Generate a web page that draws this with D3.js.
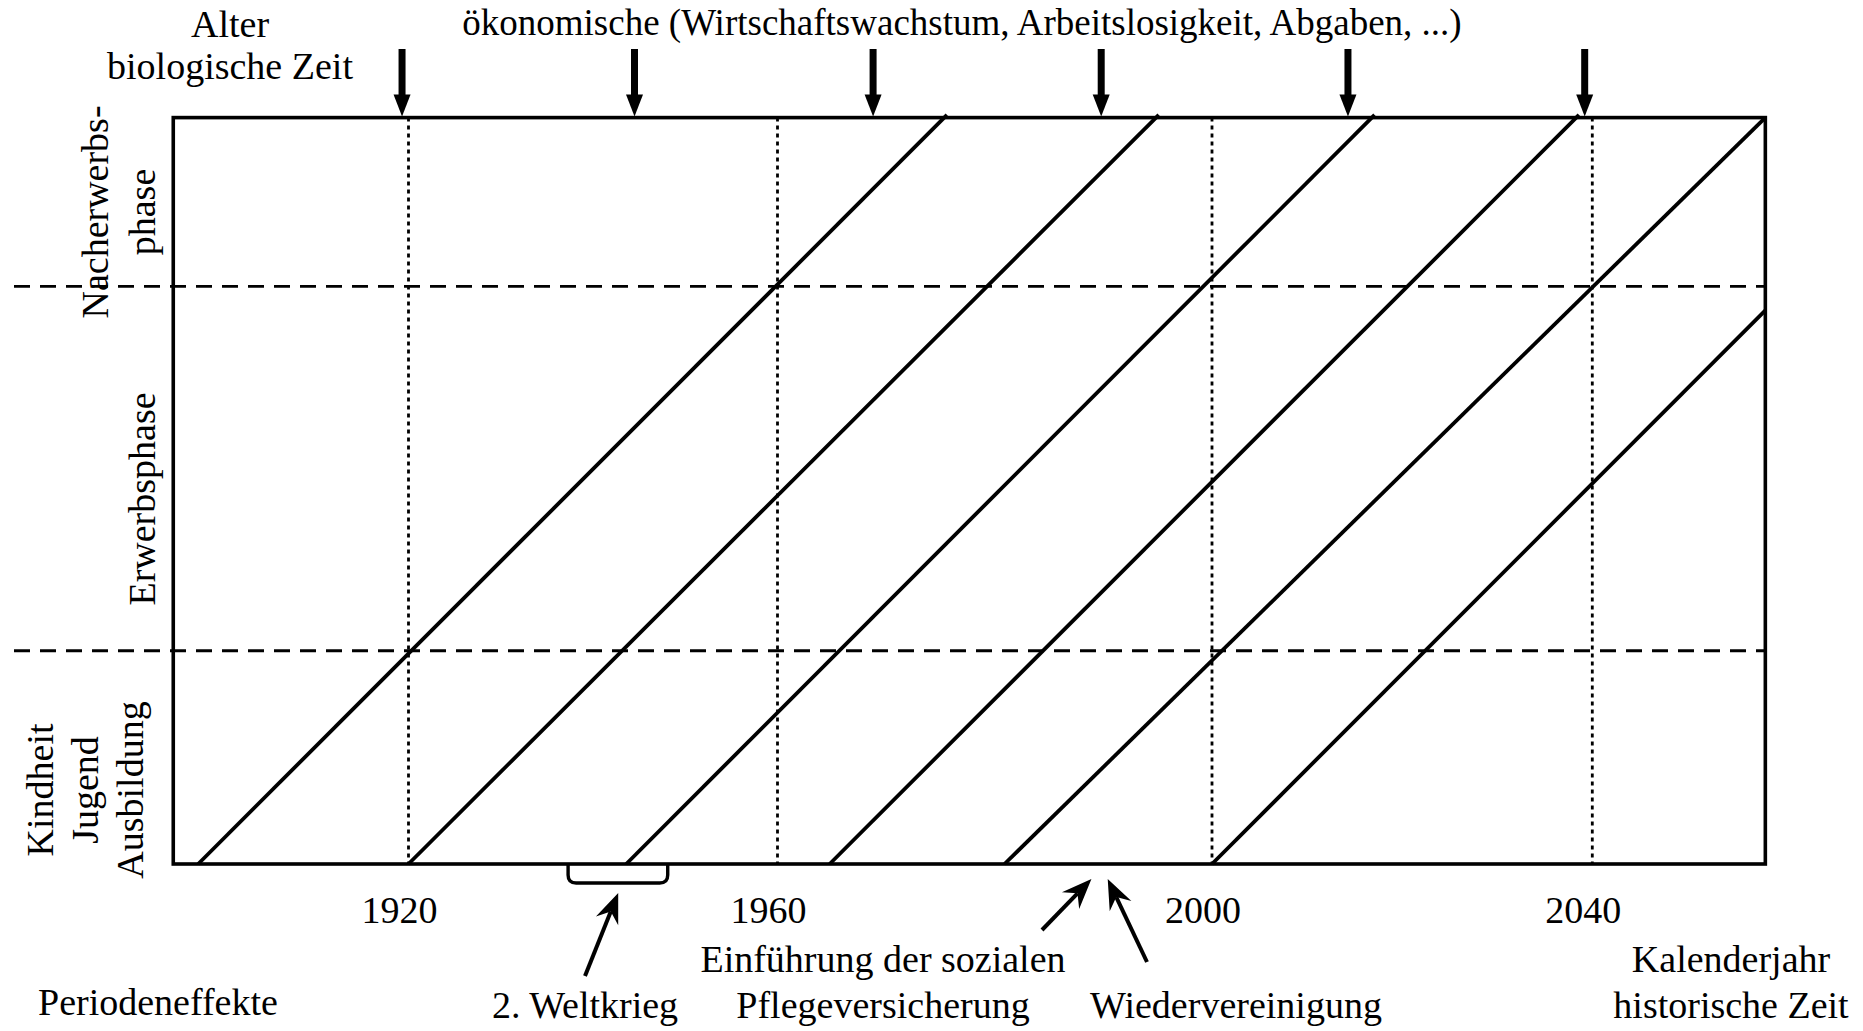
<!DOCTYPE html>
<html>
<head>
<meta charset="utf-8">
<script src="https://cdn.jsdelivr.net/npm/d3@7"></script>
<style>
  body { margin: 0; background: #fff; }
  text { font-family: "Liberation Serif", "Times New Roman", serif; fill: #000; }
</style>
</head>
<body>
<script>
'use strict';

// calendar years with tick labels (the drawing spaces them unevenly)
let yearTicks = [1920, 1960, 2000, 2040];
let yearSpan = [1894.5, 2058.2];

// age axis: life phase boundaries and top of the frame
let phaseBounds = [24, 65];
let ageMax = 84;

// cohort lines: birth year, and where each line stops (year, age)
let cohortStart = [1897.2, 1920, 1943.6, 1964.8, 1980.9, 2000];
let cohortEndYear = [1975.6, 1995.1, 2017.1, 2038.6, 2058.2, 2058.2];
let cohortEndAge = [84.3, 84.3, 84.3, 84.3, 84, 62.3];

// period effects marked by arrows above the frame
let periodYears = [1919.3, 1944.5, 1968.8, 1989.8, 2014.3, 2039.2];

// events below the axis
let warYears = [1937.3, 1948.1];
let pflegeYear = 1988.9;
let reunifyYear = 1990.4;

let w = 1863, h = 1031;
let plotTop = 117.6, plotBottom = 864;

let svg = d3.select('body')
    .append('svg')
    .attr('width', w)
    .attr('height', h);

let x = d3.scaleLinear()
    .domain(yearTicks)
    .range([408.5, 777.5, 1212, 1592.3]);

let y = d3.scaleLinear()
    .domain([0, ageMax])
    .range([plotBottom, plotTop]);

// dotted verticals at the labelled years
svg.selectAll('line.year')
    .data(yearTicks)
    .enter()
    .append('line')
    .attr('class', 'year')
    .attr('x1', d => x(d)).attr('x2', d => x(d))
    .attr('y1', y(ageMax)).attr('y2', y(0))
    .attr('stroke', '#000')
    .attr('stroke-width', 2.8)
    .attr('stroke-dasharray', '4,4');

// dashed phase boundaries, reaching out to the labels on the left
svg.selectAll('line.phase')
    .data(phaseBounds)
    .enter()
    .append('line')
    .attr('class', 'phase')
    .attr('x1', 14).attr('x2', x(yearSpan[1]))
    .attr('y1', d => y(d)).attr('y2', d => y(d))
    .attr('stroke', '#000')
    .attr('stroke-width', 2.8)
    .attr('stroke-dasharray', '16,10');

// cohort lines
svg.selectAll('line.cohort')
    .data(cohortStart)
    .enter()
    .append('line')
    .attr('class', 'cohort')
    .attr('x1', d => x(d))
    .attr('y1', y(0))
    .attr('x2', (d, i) => x(cohortEndYear[i]))
    .attr('y2', (d, i) => y(cohortEndAge[i]))
    .attr('stroke', '#000')
    .attr('stroke-width', 3.8);

// frame
svg.append('rect')
    .attr('x', x(yearSpan[0]))
    .attr('y', y(ageMax))
    .attr('width', x(yearSpan[1]) - x(yearSpan[0]))
    .attr('height', y(0) - y(ageMax))
    .attr('fill', 'none')
    .attr('stroke', '#000')
    .attr('stroke-width', 3.6);

// period arrows on top
let arrowTop = 49, headLen = 22, headHalf = 8.5;
let period = svg.selectAll('g.period')
    .data(periodYears)
    .enter()
    .append('g')
    .attr('class', 'period');

period.append('line')
    .attr('x1', d => x(d)).attr('x2', d => x(d))
    .attr('y1', arrowTop).attr('y2', y(ageMax) - headLen + 2)
    .attr('stroke', '#000')
    .attr('stroke-width', 7);

period.append('path')
    .attr('d', d => {
        let cx = x(d), tip = y(ageMax) - 1;
        return 'M' + (cx - headHalf) + ',' + (tip - headLen) +
            'L' + (cx + headHalf) + ',' + (tip - headLen) +
            'L' + cx + ',' + tip + 'Z';
    })
    .attr('fill', '#000');

// bracket for the war years
let bx0 = x(warYears[0]), bx1 = x(warYears[1]), by = y(0) + 19, r = 8;
svg.append('path')
    .attr('d', 'M' + bx0 + ',' + y(0) + 'L' + bx0 + ',' + (by - r) +
        'Q' + bx0 + ',' + by + ' ' + (bx0 + r) + ',' + by +
        'L' + (bx1 - r) + ',' + by +
        'Q' + bx1 + ',' + by + ' ' + bx1 + ',' + (by - r) +
        'L' + bx1 + ',' + y(0))
    .attr('fill', 'none')
    .attr('stroke', '#000')
    .attr('stroke-width', 3.4);

// thin arrows pointing at events
function pointer(tx, ty, fx, fy) {
    let a = Math.atan2(ty - fy, tx - fx);
    let len = 30, half = 12, notch = 20;
    let bx = tx - len * Math.cos(a), byy = ty - len * Math.sin(a);
    let nx = tx - notch * Math.cos(a), ny = ty - notch * Math.sin(a);
    let px = -Math.sin(a), py = Math.cos(a);
    svg.append('line')
        .attr('x1', fx).attr('y1', fy)
        .attr('x2', nx).attr('y2', ny)
        .attr('stroke', '#000')
        .attr('stroke-width', 4);
    svg.append('path')
        .attr('d', 'M' + tx + ',' + ty +
            'L' + (bx + px * half) + ',' + (byy + py * half) +
            'L' + nx + ',' + ny +
            'L' + (bx - px * half) + ',' + (byy - py * half) + 'Z')
        .attr('fill', '#000');
}

pointer(x(d3.mean(warYears)) + 0.3, by + 10, 585, 976);
pointer(x(pflegeYear), 879, 1042, 930);
pointer(x(reunifyYear), 879, 1147, 962);

// year labels
svg.selectAll('text.tick')
    .data(yearTicks)
    .enter()
    .append('text')
    .attr('class', 'tick')
    .text(d => d)
    .attr('x', d => x(d) - 9)
    .attr('y', 923)
    .attr('font-size', '38px')
    .attr('text-anchor', 'middle');

function label(lines, cx, baseline, gap, size) {
    let t = svg.append('text')
        .attr('font-size', (size || 38) + 'px')
        .attr('text-anchor', 'middle');
    lines.forEach((s, i) => {
        t.append('tspan')
            .attr('x', cx)
            .attr('y', baseline + i * gap)
            .text(s);
    });
}

label(['Alter', 'biologische Zeit'], 230, 37, 42);
label(['ökonomische (Wirtschaftswachstum, Arbeitslosigkeit, Abgaben, ...)'], 962, 35, 0, 37);
label(['Einführung der sozialen', 'Pflegeversicherung'], 883, 972, 46);
label(['2. Weltkrieg'], 585, 1018, 0);
label(['Wiedervereinigung'], 1236, 1018, 0);
label(['Kalenderjahr', 'historische Zeit'], 1731, 972, 46);

svg.append('text')
    .attr('x', 38).attr('y', 1015)
    .attr('font-size', '38px')
    .text('Periodeneffekte');

// rotated phase labels on the left
function sideLabel(lines, bx, cy, gap) {
    let t = svg.append('text')
        .attr('transform', 'translate(' + bx + ',' + cy + ') rotate(-90)')
        .attr('font-size', '38px')
        .attr('text-anchor', 'middle');
    lines.forEach((s, i) => {
        t.append('tspan')
            .attr('x', 0)
            .attr('y', i * gap)
            .text(s);
    });
}

sideLabel(['Nacherwerbs-', 'phase'], 108, 212, 47);
sideLabel(['Erwerbsphase'], 155, 499, 0);
sideLabel(['Kindheit', 'Jugend', 'Ausbildung'], 53, 790, 45);
</script>
</body>
</html>
